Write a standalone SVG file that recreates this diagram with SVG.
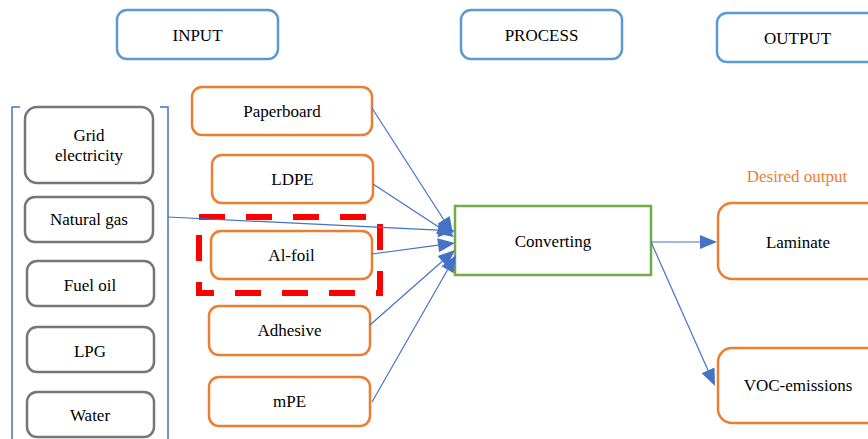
<svg xmlns="http://www.w3.org/2000/svg" width="868" height="439" viewBox="0 0 868 439">
  <style>
    .hdr { fill: #fff; stroke: #5B9BD5; stroke-width: 2.5; }
    .util { fill: #fff; stroke: #767676; stroke-width: 2.5; }
    .mat { fill: #fff; stroke: #ED7D31; stroke-width: 2.5; }
    .proc { fill: #fff; stroke: #70AD47; stroke-width: 2.5; }
    .link { fill: none; stroke: #4472C4; stroke-width: 1.2; }
    .head { fill: #4472C4; }
    .brk { fill: none; stroke: #4472C4; stroke-width: 1.5; }
  </style>
  <rect width="868" height="439" fill="#fff"/>

  <!-- column headers -->
  <g id="input-header">
    <rect class="hdr" x="117" y="10" width="161" height="49" rx="10"/>
    <text x="197.5" y="41" font-family="Liberation Serif" font-size="17" text-anchor="middle">INPUT</text>
  </g>
  <g id="process-header">
    <rect class="hdr" x="461" y="10" width="161" height="49" rx="10"/>
    <text x="541.5" y="41" font-family="Liberation Serif" font-size="17" text-anchor="middle">PROCESS</text>
  </g>
  <g id="output-header">
    <rect class="hdr" x="717" y="13" width="161" height="49" rx="10"/>
    <text x="797.5" y="44" font-family="Liberation Serif" font-size="17" text-anchor="middle">OUTPUT</text>
  </g>

  <!-- bracket around utilities -->
  <g id="utility-bracket">
    <path class="brk" d="M20,107 H12 V445"/>
    <path class="brk" d="M160,107 H168 V445"/>
  </g>

  <!-- utilities -->
  <g id="grid-electricity">
    <rect class="util" x="25" y="107" width="128" height="76" rx="12"/>
    <text x="89" y="141" font-family="Liberation Serif" font-size="17" text-anchor="middle">Grid</text>
    <text x="89" y="161" font-family="Liberation Serif" font-size="17" text-anchor="middle">electricity</text>
  </g>
  <g id="natural-gas">
    <rect class="util" x="25" y="197" width="128" height="45" rx="10"/>
    <text x="89" y="225" font-family="Liberation Serif" font-size="17" text-anchor="middle">Natural gas</text>
  </g>
  <g id="fuel-oil">
    <rect class="util" x="27" y="261" width="127" height="45" rx="10"/>
    <text x="90" y="291" font-family="Liberation Serif" font-size="17" text-anchor="middle">Fuel oil</text>
  </g>
  <g id="lpg">
    <rect class="util" x="27" y="327" width="127" height="45" rx="10"/>
    <text x="90" y="357" font-family="Liberation Serif" font-size="17" text-anchor="middle">LPG</text>
  </g>
  <g id="water">
    <rect class="util" x="27" y="392" width="127" height="45" rx="10"/>
    <text x="90" y="421" font-family="Liberation Serif" font-size="17" text-anchor="middle">Water</text>
  </g>

  <!-- materials -->
  <g id="paperboard">
    <rect class="mat" x="192" y="87" width="180" height="48" rx="10"/>
    <text x="282" y="117" font-family="Liberation Serif" font-size="17" text-anchor="middle">Paperboard</text>
  </g>
  <g id="ldpe">
    <rect class="mat" x="212" y="155" width="161" height="48" rx="10"/>
    <text x="292.5" y="185" font-family="Liberation Serif" font-size="17" text-anchor="middle">LDPE</text>
  </g>
  <g id="al-foil">
    <rect class="mat" x="211" y="231" width="161" height="48" rx="10"/>
    <text x="291.5" y="261" font-family="Liberation Serif" font-size="17" text-anchor="middle">Al-foil</text>
  </g>
  <g id="adhesive">
    <rect class="mat" x="209" y="306" width="161" height="49" rx="10"/>
    <text x="289.5" y="336" font-family="Liberation Serif" font-size="17" text-anchor="middle">Adhesive</text>
  </g>
  <g id="mpe">
    <rect class="mat" x="209" y="377" width="161" height="49" rx="10"/>
    <text x="289.5" y="407" font-family="Liberation Serif" font-size="17" text-anchor="middle">mPE</text>
  </g>

  <!-- dashed highlight around Al-foil -->
  <g id="al-foil-highlight">
    <rect x="199" y="217" width="181" height="76" fill="none" stroke="#FF0000" stroke-width="6" stroke-dasharray="26 21"/>
  </g>

  <!-- process -->
  <g id="converting">
    <rect class="proc" x="455" y="206" width="196" height="69"/>
    <text x="553" y="247" font-family="Liberation Serif" font-size="17" text-anchor="middle">Converting</text>
  </g>

  <!-- outputs -->
  <text x="797" y="182" font-family="Liberation Serif" font-size="17" text-anchor="middle" fill="#ED7D31">Desired output</text>
  <g id="laminate">
    <rect class="mat" x="718" y="203" width="170" height="76" rx="14"/>
    <text x="798" y="248" font-family="Liberation Serif" font-size="17" text-anchor="middle">Laminate</text>
  </g>
  <g id="voc-emissions">
    <rect class="mat" x="718" y="348" width="170" height="75" rx="14"/>
    <text x="798" y="391" font-family="Liberation Serif" font-size="17" text-anchor="middle">VOC-emissions</text>
  </g>

  <!-- connectors: shaft plus filled arrowhead -->
  <g id="connectors">
    <line class="link" x1="372" y1="108" x2="443.8" y2="219.7"/>
    <polygon class="head" points="453,234 437.9,223.5 449.7,215.9"/>
    <line class="link" x1="373" y1="184" x2="439.8" y2="227.7"/>
    <polygon class="head" points="454,237 435.9,233.6 443.6,221.8"/>
    <line class="link" x1="168" y1="217" x2="438" y2="230.2"/>
    <polygon class="head" points="455,231 437.7,237.2 438.4,223.2"/>
    <line class="link" x1="372" y1="254" x2="438.2" y2="245.2"/>
    <polygon class="head" points="455,243 439.1,252.2 437.2,238.3"/>
    <line class="link" x1="370" y1="325" x2="442.3" y2="261.3"/>
    <polygon class="head" points="455,250 446.9,266.5 437.6,256"/>
    <line class="link" x1="372" y1="402" x2="447.6" y2="269.8"/>
    <polygon class="head" points="456,255 453.7,273.2 441.5,266.3"/>
    <line class="link" x1="651" y1="242" x2="700" y2="242"/>
    <polygon class="head" points="717,242 700,249 700,235"/>
    <line class="link" x1="651" y1="242" x2="708.1" y2="370.5"/>
    <polygon class="head" points="715,386 701.7,373.3 714.5,367.6"/>
  </g>
</svg>
